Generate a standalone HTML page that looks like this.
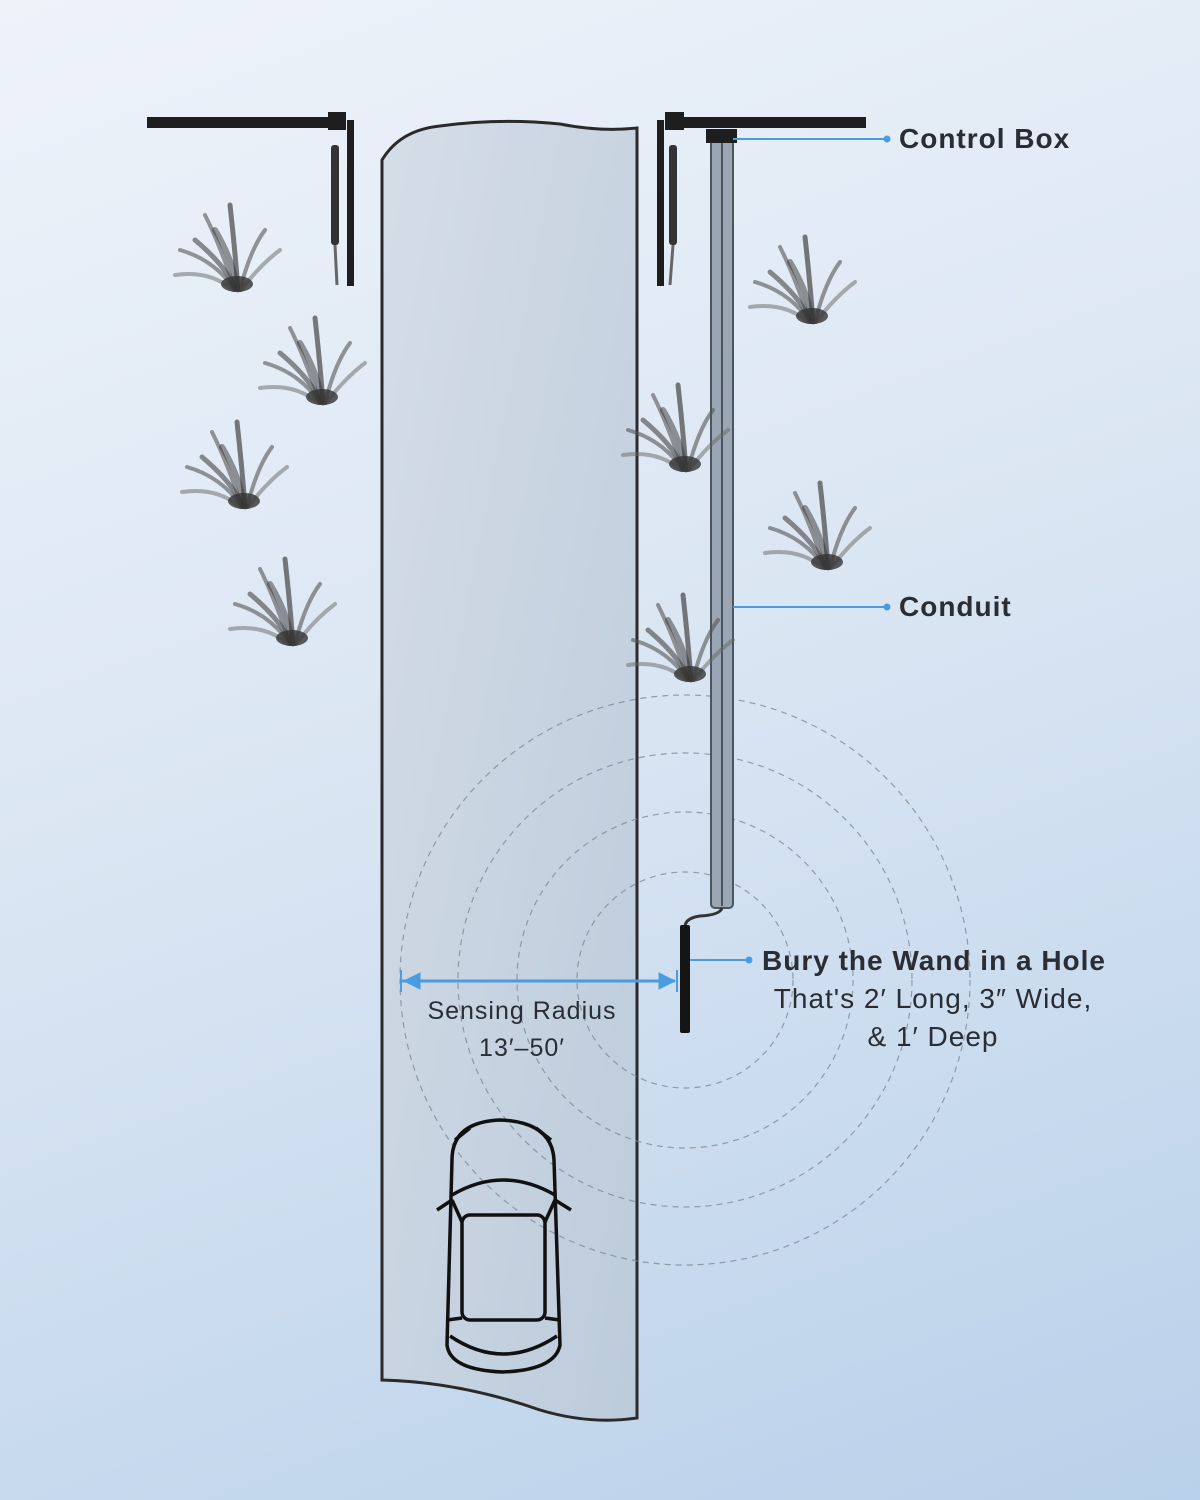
<!DOCTYPE html>
<html><head><meta charset="utf-8"><style>
body{margin:0;width:1200px;height:1500px;overflow:hidden;background:linear-gradient(160deg,#eef3fa 0%,#dbe6f3 45%,#b9d1ea 100%);}
svg{position:absolute;left:0;top:0}
.t{font-family:"Liberation Sans",sans-serif;fill:#2a2d33}
</style></head><body>
<svg width="1200" height="1500" viewBox="0 0 1200 1500">
<defs>
<linearGradient id="rd" x1="0" y1="0" x2="1" y2="1"><stop offset="0" stop-color="#d5dde7"/><stop offset="1" stop-color="#bccbdb"/></linearGradient>
<g id="grass" stroke-linecap="round" fill="none">
<path d="M0 0 Q-20 -30 -55 -40" stroke="#555" stroke-width="4" opacity=".6"/>
<path d="M-2 0 Q-25 -20 -60 -15" stroke="#666" stroke-width="4" opacity=".5"/>
<path d="M0 0 Q-15 -45 -30 -75" stroke="#555" stroke-width="4" opacity=".6"/>
<path d="M3 0 Q0 -40 -5 -85" stroke="#444" stroke-width="5" opacity=".7"/>
<path d="M5 0 Q15 -40 30 -60" stroke="#555" stroke-width="4" opacity=".6"/>
<path d="M6 0 Q25 -25 45 -40" stroke="#666" stroke-width="4" opacity=".5"/>
<path d="M0 -2 Q-10 -25 -40 -50" stroke="#444" stroke-width="5" opacity=".6"/>
<path d="M2 -2 Q-2 -30 -20 -60" stroke="#333" stroke-width="6" opacity=".5"/>
<ellipse cx="2" cy="-6" rx="16" ry="8" fill="#333" opacity=".8"/>
</g>
</defs>
<path d="M382 160 Q400 130 440 126 Q500 118 560 124 Q600 132 637 128 L637 1418 Q590 1425 540 1410 Q460 1382 382 1380 Z" fill="url(#rd)" stroke="#2a2a2a" stroke-width="3"/>
<g fill="none" stroke="#7f8a98" stroke-width="1.2" stroke-dasharray="6 5" opacity=".8">
<circle cx="685" cy="980" r="108"/><circle cx="685" cy="980" r="168"/><circle cx="685" cy="980" r="227"/><circle cx="685" cy="980" r="285"/>
</g>
<rect x="147" y="117" width="190" height="11" fill="#1e1e1e"/>
<rect x="328" y="112" width="18" height="18" fill="#1e1e1e"/>
<rect x="347" y="120" width="7" height="166" fill="#1e1e1e"/>
<rect x="331" y="145" width="8" height="100" rx="3" fill="#333"/>
<line x1="335" y1="245" x2="337" y2="285" stroke="#666" stroke-width="3"/>
<rect x="665" y="117" width="201" height="11" fill="#1e1e1e"/>
<rect x="665" y="112" width="19" height="18" fill="#1e1e1e"/>
<rect x="657" y="120" width="7" height="166" fill="#1e1e1e"/>
<rect x="669" y="145" width="8" height="100" rx="3" fill="#333"/>
<line x1="673" y1="245" x2="670" y2="285" stroke="#666" stroke-width="3"/>
<rect x="711" y="140" width="22" height="768" rx="4" fill="#9aa6b4" stroke="#4b5560" stroke-width="2"/>
<line x1="722" y1="140" x2="722" y2="906" stroke="#4b5560" stroke-width="2"/>
<rect x="706" y="129" width="31" height="14" fill="#1e1e1e"/>
<path d="M722 908 Q720 915 700 916 Q686 918 685 926" fill="none" stroke="#333" stroke-width="3"/>
<rect x="680" y="925" width="10" height="108" rx="2" fill="#151515"/>
<use href="#grass" transform="translate(235,290)"/>
<use href="#grass" transform="translate(320,403)"/>
<use href="#grass" transform="translate(242,507)"/>
<use href="#grass" transform="translate(290,644)"/>
<use href="#grass" transform="translate(810,322)"/>
<use href="#grass" transform="translate(683,470)"/>
<use href="#grass" transform="translate(825,568)"/>
<use href="#grass" transform="translate(688,680)"/>
<g fill="none" stroke="#111" stroke-width="3.5">
<path d="M452 1160 Q452 1122 500 1120 Q552 1122 554 1160 L560 1345 Q555 1370 503 1372 Q450 1370 447 1345 Z"/>
<path d="M455 1140 L470 1128 M551 1140 L536 1128"/>
<path d="M452 1195 Q503 1165 555 1195"/>
<rect x="462" y="1215" width="83" height="105" rx="8"/>
<path d="M452 1200 L462 1222 M555 1200 L545 1222 M447 1320 L462 1318 M560 1320 L545 1318"/>
<path d="M450 1336 Q503 1372 557 1336"/>
<path d="M437 1210 L452 1200 M571 1210 L555 1200"/>
</g>
<g stroke="#4a9be0" fill="#4a9be0">
<line x1="402" y1="981" x2="675" y2="981" stroke-width="3"/>
<line x1="401" y1="970" x2="401" y2="992" stroke-width="2"/>
<line x1="677" y1="970" x2="677" y2="992" stroke-width="2"/>
<path d="M404 981 L420 973 L420 989 Z"/><path d="M675 981 L659 973 L659 989 Z"/>
<line x1="733" y1="139" x2="886" y2="139" stroke-width="2"/><circle cx="887" cy="139" r="3"/>
<line x1="733" y1="607" x2="886" y2="607" stroke-width="2"/><circle cx="887" cy="607" r="3"/>
<line x1="690" y1="960" x2="748" y2="960" stroke-width="2"/><circle cx="749" cy="960" r="3"/>
</g>
<text class="t" x="899" y="148" font-size="28" font-weight="bold" letter-spacing="1">Control Box</text>
<text class="t" x="899" y="616" font-size="28" font-weight="bold" letter-spacing="1">Conduit</text>
<text class="t" x="762" y="970" font-size="28" font-weight="bold" letter-spacing="1">Bury the Wand in a Hole</text>
<text class="t" x="933" y="1008" font-size="28" letter-spacing="1" text-anchor="middle">That's 2′ Long, 3″ Wide,</text>
<text class="t" x="933" y="1046" font-size="28" letter-spacing="1" text-anchor="middle">&amp; 1′ Deep</text>
<text class="t" x="522" y="1019" font-size="25" letter-spacing="1" text-anchor="middle">Sensing Radius</text>
<text class="t" x="522" y="1056" font-size="25" letter-spacing="1" text-anchor="middle">13′–50′</text>
</svg>
</body></html>
